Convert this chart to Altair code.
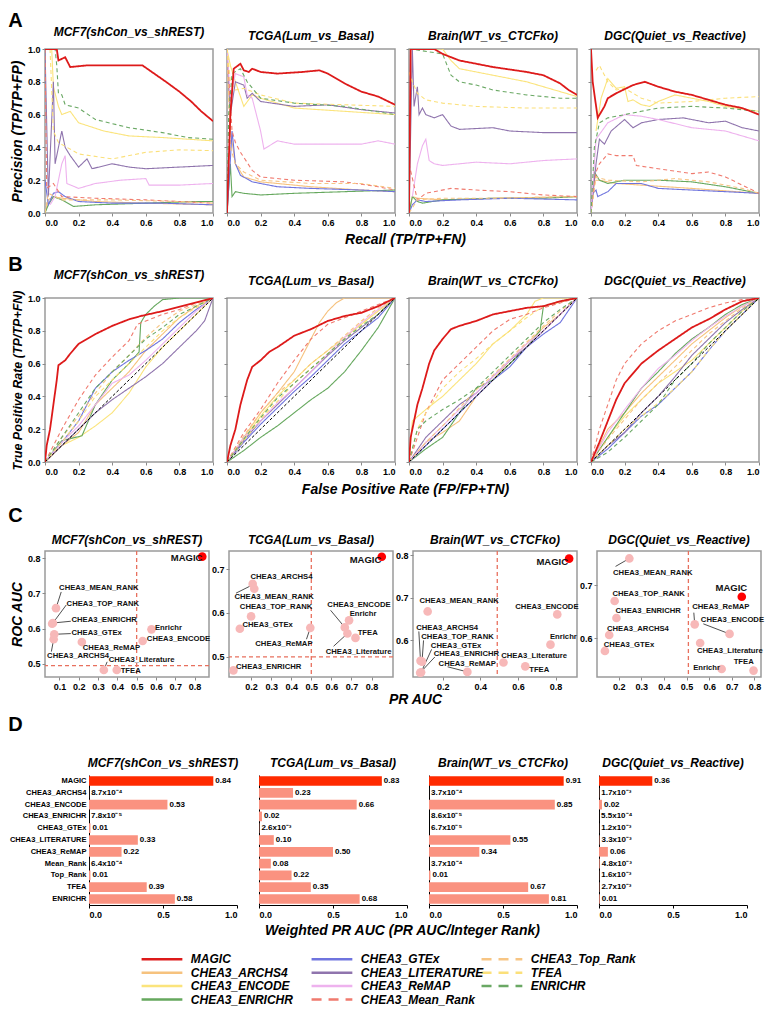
import altair as alt
import pandas as pd

FONT = "Liberation Sans"

# ---------------- methods / styles ----------------
METHODS = ["MAGIC", "CHEA3_ARCHS4", "CHEA3_ENCODE", "CHEA3_ENRICHR", "CHEA3_GTEx",
           "CHEA3_LITERATURE", "CHEA3_ReMAP", "CHEA3_Mean_Rank", "CHEA3_Top_Rank", "TFEA", "ENRICHR"]
METHOD_COLORS = ["#dd1a1a", "#f6c27e", "#fbe47c", "#66a85e", "#6f74de",
                 "#8f74ad", "#eeb2ee", "#f07a6e", "#f7c584", "#fbe07a", "#6aa864"]
DASHED = ["CHEA3_Mean_Rank", "CHEA3_Top_Rank", "TFEA", "ENRICHR"]
LEG_COL = [0, 0, 0, 0, 1, 1, 1, 1, 2, 2, 2]
LEG_ROW = [0, 1, 2, 3, 0, 1, 2, 3, 0, 1, 2]

TICKS01 = [0.0, 0.2, 0.4, 0.6, 0.8, 1.0]
DIAG_X = [0.0, 1.0]
DIAG_Y = [0.0, 1.0]
FPR_GRID = [0.0, 0.1, 0.2, 0.3, 0.4, 0.5, 0.6, 0.7, 0.8, 0.9, 1.0]

# ---------------- A: precision-recall curves ----------------
PR_MCF7 = {
    "CHEA3_ARCHS4": ([0.0, 0.02, 0.05, 0.1, 0.3, 0.6, 1.0], [0.0, 0.08, 0.1, 0.09, 0.07, 0.06, 0.05]),
    "CHEA3_ENCODE": ([0.04, 0.05, 0.08, 0.1, 0.15, 0.2, 0.35, 0.5, 0.7, 1.0], [1.0, 0.77, 0.65, 0.6, 0.62, 0.55, 0.5, 0.47, 0.46, 0.44]),
    "CHEA3_ENRICHR": ([0.0, 0.02, 0.05, 0.1, 0.17, 0.3, 0.6, 0.9, 1.0], [0.0, 0.05, 0.1, 0.08, 0.04, 0.05, 0.06, 0.07, 0.07]),
    "CHEA3_GTEx": ([0.0, 0.02, 0.05, 0.08, 0.12, 0.2, 0.4, 0.7, 1.0], [0.2, 0.05, 0.12, 0.13, 0.1, 0.07, 0.06, 0.06, 0.05]),
    "CHEA3_LITERATURE": ([0.0, 0.02, 0.05, 0.06, 0.1, 0.12, 0.15, 0.2, 0.25, 0.28, 0.4, 0.5, 0.6, 0.8, 1.0], [1.0, 0.1, 0.8, 0.3, 0.5, 0.4, 0.35, 0.28, 0.33, 0.27, 0.3, 0.28, 0.27, 0.28, 0.29]),
    "CHEA3_ReMAP": ([0.03, 0.06, 0.1, 0.12, 0.13, 0.2, 0.3, 0.45, 0.6, 0.62, 0.8, 1.0], [0.05, 0.1, 0.3, 0.35, 0.18, 0.15, 0.18, 0.2, 0.21, 0.17, 0.17, 0.18]),
    "CHEA3_Mean_Rank": ([0.0, 0.01, 0.05, 0.1, 0.3, 0.6, 1.0], [1.0, 0.15, 0.18, 0.1, 0.09, 0.08, 0.06]),
    "CHEA3_Top_Rank": ([0.0, 0.02, 0.1, 0.4, 0.8, 1.0], [0.0, 0.12, 0.08, 0.08, 0.07, 0.06]),
    "TFEA": ([0.03, 0.05, 0.08, 0.2, 0.4, 0.6, 0.8, 1.0], [1.0, 0.5, 0.43, 0.36, 0.33, 0.37, 0.385, 0.38]),
    "ENRICHR": ([0.05, 0.06, 0.07, 0.08, 0.1, 0.12, 0.2, 0.3, 0.5, 0.7, 0.85, 1.0], [1.0, 1.0, 0.9, 0.73, 0.72, 0.66, 0.64, 0.57, 0.52, 0.49, 0.46, 0.45]),
    "MAGIC": ([0.0, 0.07, 0.08, 0.12, 0.15, 0.25, 0.45, 0.58, 0.65, 0.72, 0.8, 0.87, 0.93, 1.0], [1.0, 1.0, 0.93, 0.95, 0.89, 0.9, 0.9, 0.9, 0.85, 0.8, 0.74, 0.68, 0.62, 0.56]),
}
PR_TCGA = {
    "CHEA3_ARCHS4": ([0.0, 0.02, 0.05, 0.1, 0.2, 0.5, 0.8, 1.0], [1.0, 0.5, 0.3, 0.22, 0.19, 0.16, 0.14, 0.13]),
    "CHEA3_ENCODE": ([0.0, 0.02, 0.05, 0.1, 0.15, 0.2, 0.4, 0.7, 1.0], [1.0, 0.9, 0.8, 0.65, 0.72, 0.7, 0.64, 0.62, 0.6]),
    "CHEA3_ENRICHR": ([0.0, 0.02, 0.03, 0.05, 0.1, 0.2, 0.4, 0.7, 1.0], [0.0, 0.3, 0.1, 0.13, 0.12, 0.11, 0.12, 0.13, 0.14]),
    "CHEA3_GTEx": ([0.0, 0.01, 0.03, 0.05, 0.08, 0.15, 0.3, 0.5, 0.8, 1.0], [0.0, 0.15, 0.5, 0.3, 0.23, 0.19, 0.16, 0.15, 0.14, 0.13]),
    "CHEA3_LITERATURE": ([0.0, 0.02, 0.05, 0.1, 0.12, 0.15, 0.2, 0.4, 0.6, 0.8, 1.0], [1.0, 0.6, 0.8, 0.78, 0.7, 0.73, 0.68, 0.65, 0.66, 0.63, 0.61]),
    "CHEA3_ReMAP": ([0.0, 0.02, 0.05, 0.1, 0.12, 0.15, 0.2, 0.22, 0.3, 0.4, 0.6, 0.8, 0.9, 1.0], [1.0, 0.7, 0.85, 0.83, 0.72, 0.7, 0.5, 0.39, 0.44, 0.42, 0.42, 0.42, 0.44, 0.42]),
    "CHEA3_Mean_Rank": ([0.0, 0.03, 0.05, 0.08, 0.1, 0.15, 0.2, 0.4, 0.7, 0.9, 1.0], [1.0, 0.5, 0.43, 0.37, 0.34, 0.26, 0.22, 0.2, 0.19, 0.16, 0.14]),
    "CHEA3_Top_Rank": ([0.0, 0.02, 0.05, 0.1, 0.2, 0.5, 0.8, 1.0], [1.0, 0.4, 0.3, 0.25, 0.2, 0.18, 0.18, 0.15]),
    "TFEA": ([0.0, 0.02, 0.05, 0.1, 0.2, 0.4, 0.7, 1.0], [1.0, 0.8, 0.75, 0.76, 0.72, 0.67, 0.66, 0.65]),
    "ENRICHR": ([0.0, 0.01, 0.03, 0.08, 0.12, 0.2, 0.4, 0.7, 1.0], [0.0, 0.6, 0.85, 0.88, 0.8, 0.7, 0.67, 0.65, 0.6]),
    "MAGIC": ([0.0, 0.02, 0.04, 0.08, 0.1, 0.13, 0.15, 0.2, 0.3, 0.45, 0.55, 0.6, 0.7, 0.8, 0.9, 1.0], [0.0, 0.6, 0.88, 0.91, 0.87, 0.86, 0.88, 0.86, 0.85, 0.86, 0.87, 0.85, 0.79, 0.74, 0.71, 0.66]),
}
PR_BRAIN = {
    "CHEA3_ARCHS4": ([0.0, 0.02, 0.05, 0.2, 0.5, 1.0], [0.0, 0.1, 0.09, 0.08, 0.09, 0.1]),
    "CHEA3_ENCODE": ([0.0, 0.01, 0.2, 0.25, 0.3, 0.5, 0.7, 0.9, 1.0], [1.0, 1.0, 1.0, 0.93, 0.88, 0.84, 0.8, 0.74, 0.71]),
    "CHEA3_ENRICHR": ([0.0, 0.02, 0.05, 0.08, 0.2, 0.5, 0.8, 1.0], [0.0, 0.1, 0.07, 0.06, 0.08, 0.09, 0.09, 0.1]),
    "CHEA3_GTEx": ([0.0, 0.02, 0.05, 0.1, 0.3, 0.6, 1.0], [0.0, 0.05, 0.08, 0.07, 0.08, 0.09, 0.08]),
    "CHEA3_LITERATURE": ([0.0, 0.02, 0.03, 0.05, 0.06, 0.08, 0.1, 0.15, 0.2, 0.25, 0.3, 0.5, 0.6, 0.8, 1.0], [0.0, 1.0, 0.65, 0.77, 0.6, 0.64, 0.6, 0.58, 0.6, 0.53, 0.51, 0.52, 0.5, 0.49, 0.49]),
    "CHEA3_ReMAP": ([0.02, 0.05, 0.08, 0.1, 0.12, 0.15, 0.2, 0.4, 0.6, 0.8, 1.0], [0.1, 0.3, 0.41, 0.45, 0.32, 0.3, 0.29, 0.31, 0.3, 0.32, 0.33]),
    "CHEA3_Mean_Rank": ([0.0, 0.05, 0.1, 0.25, 0.4, 0.6, 0.8, 1.0], [0.3, 0.08, 0.12, 0.15, 0.14, 0.13, 0.11, 0.1]),
    "CHEA3_Top_Rank": ([0.0, 0.05, 0.2, 0.5, 1.0], [0.0, 0.08, 0.09, 0.09, 0.1]),
    "TFEA": ([0.0, 0.02, 0.05, 0.1, 0.2, 0.4, 0.7, 1.0], [0.86, 0.8, 0.73, 0.69, 0.67, 0.65, 0.64, 0.64]),
    "ENRICHR": ([0.0, 0.01, 0.2, 0.25, 0.3, 0.4, 0.5, 0.7, 0.9, 1.0], [1.0, 1.0, 0.97, 0.84, 0.8, 0.78, 0.75, 0.72, 0.7, 0.7]),
    "MAGIC": ([0.0, 0.01, 0.15, 0.2, 0.3, 0.5, 0.7, 0.8, 0.9, 0.95, 1.0], [0.0, 1.0, 1.0, 0.97, 0.93, 0.89, 0.86, 0.84, 0.79, 0.75, 0.72]),
}
PR_DGC = {
    "CHEA3_ARCHS4": ([0.0, 0.02, 0.05, 0.15, 0.3, 0.6, 1.0], [0.0, 0.2, 0.2, 0.18, 0.17, 0.15, 0.12]),
    "CHEA3_ENCODE": ([0.03, 0.06, 0.1, 0.15, 0.2, 0.22, 0.25, 0.3, 0.35, 0.4, 0.5, 0.6, 0.7, 0.8, 1.0], [0.5, 0.7, 0.82, 0.76, 0.77, 0.68, 0.69, 0.66, 0.65, 0.68, 0.72, 0.7, 0.68, 0.65, 0.62]),
    "CHEA3_ENRICHR": ([0.0, 0.02, 0.05, 0.1, 0.2, 0.4, 0.6, 0.8, 1.0], [0.0, 0.25, 0.2, 0.18, 0.2, 0.2, 0.19, 0.16, 0.12]),
    "CHEA3_GTEx": ([0.0, 0.01, 0.03, 0.04, 0.1, 0.15, 0.3, 0.4, 0.6, 1.0], [0.0, 0.12, 0.14, 0.1, 0.13, 0.18, 0.18, 0.15, 0.14, 0.12]),
    "CHEA3_LITERATURE": ([0.0, 0.03, 0.05, 0.08, 0.12, 0.2, 0.25, 0.3, 0.4, 0.55, 0.7, 0.8, 0.9, 1.0], [0.0, 0.3, 0.45, 0.42, 0.5, 0.57, 0.52, 0.55, 0.57, 0.58, 0.55, 0.56, 0.52, 0.5]),
    "CHEA3_ReMAP": ([0.0, 0.03, 0.1, 0.2, 0.3, 0.4, 0.6, 0.8, 1.0], [0.0, 0.45, 0.55, 0.6, 0.59, 0.57, 0.52, 0.5, 0.44]),
    "CHEA3_Mean_Rank": ([0.0, 0.03, 0.05, 0.1, 0.15, 0.25, 0.27, 0.4, 0.6, 0.7, 0.8, 1.0], [0.0, 0.25, 0.3, 0.36, 0.35, 0.35, 0.29, 0.27, 0.24, 0.25, 0.22, 0.12]),
    "CHEA3_Top_Rank": ([0.0, 0.03, 0.1, 0.3, 0.5, 0.7, 0.9, 1.0], [0.0, 0.22, 0.2, 0.19, 0.21, 0.19, 0.15, 0.12]),
    "TFEA": ([0.03, 0.05, 0.1, 0.15, 0.2, 0.3, 0.4, 0.6, 0.7, 0.8, 1.0], [0.87, 0.9, 0.8, 0.75, 0.76, 0.7, 0.67, 0.68, 0.69, 0.7, 0.71]),
    "ENRICHR": ([0.0, 0.02, 0.05, 0.1, 0.2, 0.3, 0.4, 0.6, 0.8, 1.0], [0.0, 0.4, 0.55, 0.58, 0.6, 0.62, 0.64, 0.65, 0.64, 0.62]),
    "MAGIC": ([0.0, 0.01, 0.04, 0.08, 0.1, 0.15, 0.25, 0.32, 0.4, 0.5, 0.6, 0.7, 0.8, 0.9, 1.0], [1.0, 0.8, 0.58, 0.65, 0.7, 0.73, 0.78, 0.8, 0.77, 0.74, 0.72, 0.69, 0.66, 0.64, 0.6]),
}

# ---------------- B: ROC curves ----------------
ROC_MCF7 = {
    "CHEA3_ARCHS4": (FPR_GRID, [0.0, 0.1, 0.18, 0.35, 0.45, 0.55, 0.68, 0.78, 0.88, 0.95, 1.0]),
    "CHEA3_ENCODE": (FPR_GRID, [0.0, 0.1, 0.15, 0.22, 0.3, 0.42, 0.58, 0.7, 0.8, 0.9, 1.0]),
    "CHEA3_ENRICHR": ([0.0, 0.1, 0.22, 0.3, 0.4, 0.5, 0.56, 0.57, 0.6, 0.65, 0.7, 0.8, 1.0], [0.0, 0.13, 0.16, 0.35, 0.5, 0.6, 0.67, 0.85, 0.9, 0.95, 0.99, 1.0, 1.0]),
    "CHEA3_GTEx": (FPR_GRID, [0.0, 0.12, 0.25, 0.45, 0.55, 0.62, 0.68, 0.75, 0.85, 0.93, 1.0]),
    "CHEA3_LITERATURE": ([0.0, 0.1, 0.2, 0.3, 0.4, 0.5, 0.6, 0.7, 0.8, 0.9, 0.95, 1.0], [0.0, 0.1, 0.2, 0.3, 0.38, 0.45, 0.52, 0.6, 0.7, 0.8, 0.86, 1.0]),
    "CHEA3_ReMAP": (FPR_GRID, [0.0, 0.12, 0.22, 0.35, 0.48, 0.53, 0.62, 0.72, 0.82, 0.92, 1.0]),
    "CHEA3_Mean_Rank": ([0.0, 0.1, 0.2, 0.3, 0.4, 0.5, 0.55, 0.6, 0.7, 0.8, 0.9, 1.0], [0.0, 0.2, 0.38, 0.53, 0.64, 0.74, 0.84, 0.86, 0.9, 0.93, 0.97, 1.0]),
    "CHEA3_Top_Rank": ([0.0, 0.1, 0.2, 0.3, 0.4, 0.5, 0.6, 0.7, 0.8, 1.0], [0.0, 0.15, 0.28, 0.42, 0.55, 0.65, 0.76, 0.85, 0.92, 1.0]),
    "TFEA": ([0.0, 0.1, 0.2, 0.3, 0.4, 0.5, 0.6, 0.7, 0.8, 1.0], [0.0, 0.12, 0.25, 0.4, 0.5, 0.6, 0.7, 0.8, 0.88, 1.0]),
    "ENRICHR": ([0.0, 0.1, 0.2, 0.3, 0.4, 0.5, 0.6, 0.7, 0.8, 1.0], [0.0, 0.15, 0.3, 0.45, 0.55, 0.65, 0.75, 0.82, 0.9, 1.0]),
    "MAGIC": ([0.0, 0.01, 0.03, 0.05, 0.07, 0.08, 0.12, 0.15, 0.2, 0.3, 0.4, 0.5, 0.57, 0.7, 0.85, 1.0], [0.0, 0.1, 0.2, 0.35, 0.5, 0.59, 0.62, 0.66, 0.72, 0.78, 0.83, 0.87, 0.89, 0.92, 0.96, 1.0]),
}
ROC_TCGA = {
    "CHEA3_ARCHS4": ([0.0, 0.1, 0.2, 0.3, 0.4, 0.45, 0.5, 0.55, 0.6, 0.65, 0.7, 1.0], [0.0, 0.15, 0.3, 0.42, 0.55, 0.65, 0.75, 0.85, 0.92, 0.97, 1.0, 1.0]),
    "CHEA3_ENCODE": (FPR_GRID, [0.0, 0.14, 0.28, 0.4, 0.5, 0.6, 0.68, 0.76, 0.84, 0.92, 1.0]),
    "CHEA3_ENRICHR": (FPR_GRID, [0.0, 0.07, 0.15, 0.22, 0.3, 0.38, 0.45, 0.55, 0.68, 0.82, 1.0]),
    "CHEA3_GTEx": (FPR_GRID, [0.0, 0.12, 0.23, 0.33, 0.43, 0.52, 0.62, 0.72, 0.8, 0.88, 1.0]),
    "CHEA3_LITERATURE": (FPR_GRID, [0.0, 0.13, 0.25, 0.35, 0.45, 0.55, 0.65, 0.74, 0.82, 0.9, 1.0]),
    "CHEA3_ReMAP": (FPR_GRID, [0.0, 0.15, 0.25, 0.36, 0.45, 0.55, 0.66, 0.76, 0.85, 0.93, 1.0]),
    "CHEA3_Mean_Rank": (FPR_GRID, [0.0, 0.18, 0.32, 0.48, 0.62, 0.75, 0.84, 0.88, 0.92, 0.96, 1.0]),
    "CHEA3_Top_Rank": (FPR_GRID, [0.0, 0.16, 0.3, 0.42, 0.5, 0.6, 0.68, 0.77, 0.86, 0.94, 1.0]),
    "TFEA": (FPR_GRID, [0.0, 0.13, 0.26, 0.37, 0.48, 0.57, 0.66, 0.75, 0.84, 0.92, 1.0]),
    "ENRICHR": (FPR_GRID, [0.0, 0.14, 0.27, 0.39, 0.48, 0.57, 0.66, 0.75, 0.83, 0.9, 1.0]),
    "MAGIC": ([0.0, 0.02, 0.05, 0.08, 0.12, 0.15, 0.2, 0.25, 0.3, 0.4, 0.5, 0.6, 0.7, 0.8, 0.9, 1.0], [0.0, 0.1, 0.2, 0.35, 0.5, 0.58, 0.62, 0.67, 0.7, 0.77, 0.81, 0.86, 0.89, 0.91, 0.95, 1.0]),
}
ROC_BRAIN = {
    "CHEA3_ARCHS4": (FPR_GRID, [0.0, 0.12, 0.18, 0.25, 0.4, 0.5, 0.62, 0.72, 0.82, 0.9, 1.0]),
    "CHEA3_ENCODE": ([0.0, 0.02, 0.1, 0.2, 0.3, 0.4, 0.5, 0.6, 0.7, 0.75, 0.8, 1.0], [0.0, 0.25, 0.32, 0.4, 0.5, 0.6, 0.72, 0.8, 0.9, 0.98, 1.0, 1.0]),
    "CHEA3_ENRICHR": ([0.0, 0.1, 0.2, 0.3, 0.4, 0.5, 0.6, 0.7, 0.78, 0.8, 0.9, 1.0], [0.0, 0.08, 0.15, 0.3, 0.45, 0.5, 0.6, 0.7, 0.8, 0.95, 0.98, 1.0]),
    "CHEA3_GTEx": (FPR_GRID, [0.0, 0.1, 0.2, 0.3, 0.4, 0.5, 0.58, 0.7, 0.78, 0.85, 1.0]),
    "CHEA3_LITERATURE": (FPR_GRID, [0.0, 0.15, 0.25, 0.35, 0.42, 0.52, 0.62, 0.7, 0.8, 0.9, 1.0]),
    "CHEA3_ReMAP": (FPR_GRID, [0.0, 0.12, 0.22, 0.32, 0.42, 0.52, 0.62, 0.72, 0.8, 0.9, 1.0]),
    "CHEA3_Mean_Rank": ([0.0, 0.05, 0.1, 0.2, 0.3, 0.4, 0.5, 0.6, 0.7, 0.8, 0.9, 1.0], [0.0, 0.15, 0.3, 0.5, 0.6, 0.7, 0.8, 0.87, 0.9, 0.94, 0.97, 1.0]),
    "CHEA3_Top_Rank": (FPR_GRID, [0.0, 0.12, 0.22, 0.33, 0.44, 0.53, 0.63, 0.73, 0.83, 0.92, 1.0]),
    "TFEA": ([0.0, 0.05, 0.1, 0.2, 0.3, 0.4, 0.5, 0.6, 0.7, 0.8, 1.0], [0.0, 0.2, 0.3, 0.45, 0.55, 0.63, 0.72, 0.8, 0.88, 0.95, 1.0]),
    "ENRICHR": ([0.0, 0.05, 0.1, 0.2, 0.3, 0.4, 0.5, 0.6, 0.7, 0.8, 0.9, 1.0], [0.0, 0.2, 0.25, 0.32, 0.38, 0.45, 0.55, 0.65, 0.75, 0.85, 0.93, 1.0]),
    "MAGIC": ([0.0, 0.01, 0.03, 0.05, 0.08, 0.12, 0.15, 0.2, 0.25, 0.3, 0.4, 0.5, 0.6, 0.7, 0.8, 0.9, 1.0], [0.0, 0.15, 0.25, 0.35, 0.45, 0.6, 0.68, 0.75, 0.81, 0.83, 0.86, 0.9, 0.92, 0.94, 0.95, 0.98, 1.0]),
}
ROC_DGC = {
    "CHEA3_ARCHS4": (FPR_GRID, [0.0, 0.2, 0.3, 0.42, 0.52, 0.62, 0.72, 0.8, 0.88, 0.95, 1.0]),
    "CHEA3_ENCODE": (FPR_GRID, [0.0, 0.15, 0.28, 0.38, 0.48, 0.55, 0.62, 0.72, 0.82, 0.92, 1.0]),
    "CHEA3_ENRICHR": (FPR_GRID, [0.0, 0.15, 0.3, 0.45, 0.55, 0.66, 0.75, 0.82, 0.9, 0.96, 1.0]),
    "CHEA3_GTEx": (FPR_GRID, [0.0, 0.08, 0.18, 0.28, 0.35, 0.45, 0.55, 0.68, 0.8, 0.9, 1.0]),
    "CHEA3_LITERATURE": (FPR_GRID, [0.0, 0.1, 0.18, 0.3, 0.4, 0.52, 0.65, 0.75, 0.85, 0.93, 1.0]),
    "CHEA3_ReMAP": (FPR_GRID, [0.0, 0.18, 0.32, 0.45, 0.57, 0.65, 0.74, 0.82, 0.89, 0.95, 1.0]),
    "CHEA3_Mean_Rank": ([0.0, 0.05, 0.1, 0.15, 0.2, 0.3, 0.4, 0.5, 0.6, 0.7, 0.8, 0.9, 1.0], [0.0, 0.2, 0.35, 0.5, 0.6, 0.72, 0.8, 0.86, 0.9, 0.94, 0.97, 0.99, 1.0]),
    "CHEA3_Top_Rank": (FPR_GRID, [0.0, 0.14, 0.26, 0.38, 0.48, 0.58, 0.68, 0.78, 0.86, 0.94, 1.0]),
    "TFEA": (FPR_GRID, [0.0, 0.1, 0.2, 0.28, 0.36, 0.45, 0.55, 0.68, 0.8, 0.9, 1.0]),
    "ENRICHR": (FPR_GRID, [0.0, 0.06, 0.15, 0.25, 0.35, 0.5, 0.6, 0.72, 0.82, 0.92, 1.0]),
    "MAGIC": ([0.0, 0.05, 0.1, 0.15, 0.2, 0.3, 0.4, 0.5, 0.6, 0.7, 0.8, 0.9, 1.0], [0.0, 0.12, 0.25, 0.38, 0.48, 0.6, 0.68, 0.75, 0.82, 0.87, 0.93, 0.98, 1.0]),
}

# ---------------- C: PR AUC vs ROC AUC ----------------
C_MCF7_NAMES = ["MAGIC", "CHEA3_MEAN_RANK", "CHEA3_TOP_RANK", "CHEA3_ENRICHR", "CHEA3_GTEx", "CHEA3_ARCHS4",
                "CHEA3_ReMAP", "CHEA3_ENCODE", "Enrichr", "CHEA3_Literature", "TFEA"]
C_MCF7_PR = [0.84, 0.082, 0.066, 0.062, 0.073, 0.07, 0.216, 0.531, 0.577, 0.33, 0.397]
C_MCF7_ROC = [0.804, 0.658, 0.616, 0.614, 0.584, 0.57, 0.562, 0.565, 0.598, 0.483, 0.483]
C_MCF7_LX = [0.677, 0.098, 0.137, 0.162, 0.162, 0.036, 0.221, 0.553, 0.595, 0.355, 0.417]
C_MCF7_LY = [0.80, 0.714, 0.669, 0.624, 0.587, 0.522, 0.546, 0.570, 0.602, 0.512, 0.481]
C_MCF7_LEAD = [(0.109, 0.704, 0.082, 0.658), (0.135, 0.667, 0.066, 0.616), (0.159, 0.621, 0.066, 0.616),
               (0.159, 0.586, 0.073, 0.584), (0.058, 0.535, 0.07, 0.57), (0.347, 0.506, 0.33, 0.483)]

C_TCGA_NAMES = ["MAGIC", "CHEA3_ARCHS4", "CHEA3_MEAN_RANK", "CHEA3_TOP_RANK", "CHEA3_GTEx", "CHEA3_ReMAP",
                "CHEA3_ENCODE", "Enrichr", "CHEA3_Literature", "TFEA", "CHEA3_ENRICHR"]
C_TCGA_PR = [0.851, 0.208, 0.216, 0.2, 0.144, 0.495, 0.667, 0.688, 0.68, 0.72, 0.112]
C_TCGA_ROC = [0.728, 0.666, 0.655, 0.592, 0.564, 0.566, 0.567, 0.583, 0.553, 0.543, 0.469]
C_TCGA_LX = [0.691, 0.197, 0.117, 0.144, 0.157, 0.221, 0.58, 0.691, 0.572, 0.731, 0.125]
C_TCGA_LY = [0.721, 0.681, 0.637, 0.613, 0.572, 0.53, 0.619, 0.597, 0.512, 0.554, 0.476]
C_TCGA_LEAD = [(0.125, 0.645, 0.208, 0.664), (0.476, 0.54, 0.495, 0.566), (0.596, 0.606, 0.667, 0.567),
               (0.611, 0.524, 0.68, 0.553)]

C_BRAIN_NAMES = ["MAGIC", "CHEA3_MEAN_RANK", "CHEA3_ENCODE", "CHEA3_ARCHS4", "CHEA3_TOP_RANK", "CHEA3_GTEx",
                 "CHEA3_ENRICHR", "CHEA3_ReMAP", "CHEA3_Literature", "Enrichr", "TFEA"]
C_BRAIN_PR = [0.872, 0.12, 0.809, 0.082, 0.09, 0.085, 0.08, 0.331, 0.523, 0.773, 0.639]
C_BRAIN_ROC = [0.792, 0.668, 0.661, 0.552, 0.55, 0.525, 0.524, 0.526, 0.548, 0.59, 0.539]
C_BRAIN_LX = [0.698, 0.076, 0.586, 0.059, 0.086, 0.137, 0.152, 0.178, 0.511, 0.77, 0.66]
C_BRAIN_LY = [0.785, 0.693, 0.678, 0.629, 0.608, 0.586, 0.567, 0.545, 0.563, 0.608, 0.53]
C_BRAIN_LEAD = [(0.073, 0.621, 0.082, 0.552), (0.098, 0.6, 0.09, 0.55), (0.141, 0.579, 0.085, 0.525),
                (0.158, 0.561, 0.08, 0.524), (0.226, 0.538, 0.331, 0.526)]

C_DGC_NAMES = ["MAGIC", "CHEA3_MEAN_RANK", "CHEA3_TOP_RANK", "CHEA3_ENRICHR", "CHEA3_ReMAP", "CHEA3_ARCHS4",
               "CHEA3_ENCODE", "CHEA3_Literature", "CHEA3_GTEx", "Enrichr", "TFEA"]
C_DGC_PR = [0.744, 0.247, 0.182, 0.19, 0.536, 0.158, 0.69, 0.56, 0.139, 0.655, 0.796]
C_DGC_ROC = [0.678, 0.75, 0.67, 0.638, 0.626, 0.606, 0.608, 0.591, 0.576, 0.542, 0.539]
C_DGC_LX = [0.628, 0.175, 0.172, 0.186, 0.525, 0.148, 0.563, 0.546, 0.134, 0.529, 0.708]
C_DGC_LY = [0.694, 0.722, 0.683, 0.652, 0.658, 0.618, 0.635, 0.576, 0.588, 0.543, 0.555]
C_DGC_LEAD = [(0.186, 0.735, 0.247, 0.75), (0.532, 0.648, 0.536, 0.626), (0.574, 0.627, 0.69, 0.608)]

# ---------------- D: weighted PR AUC ----------------
D_CATS = ["MAGIC", "CHEA3_ARCHS4", "CHEA3_ENCODE", "CHEA3_ENRICHR", "CHEA3_GTEx", "CHEA3_LITERATURE",
          "CHEA3_ReMAP", "Mean_Rank", "Top_Rank", "TFEA", "ENRICHR"]
D_MCF7 = [0.84, 8.7e-4, 0.53, 7.8e-5, 0.01, 0.33, 0.22, 6.4e-4, 0.01, 0.39, 0.58]
D_TCGA = [0.83, 0.23, 0.66, 0.02, 2.6e-3, 0.10, 0.50, 0.08, 0.22, 0.35, 0.68]
D_BRAIN = [0.91, 3.7e-4, 0.85, 8.6e-5, 6.7e-5, 0.55, 0.34, 3.7e-4, 0.01, 0.67, 0.81]
D_DGC = [0.36, 1.7e-3, 0.02, 5.5e-4, 1.2e-3, 3.3e-3, 0.06, 4.8e-3, 1.6e-3, 2.7e-3, 5.0e-3]

TITLES = ["MCF7(shCon_vs_shREST)", "TCGA(Lum_vs_Basal)", "Brain(WT_vs_CTCFko)", "DGC(Quiet_vs_Reactive)"]

# ---------------- helpers ----------------
SUP = str.maketrans("0123456789-", "⁰¹²³⁴⁵⁶⁷⁸⁹⁻")


def fmt_val(v):
    if v >= 0.005:
        return f"{v:.2f}"
    mant, exp = f"{v:.1e}".split("e")
    return f"{mant}x10" + str(int(exp)).translate(SUP)


def curves_df(d):
    rows = []
    for m, (xs, ys) in d.items():
        for i, (x, y) in enumerate(zip(xs, ys)):
            rows.append({"method": m, "x": x, "y": y, "i": i})
    return pd.DataFrame(rows)


def panel_title(t, off):
    return alt.TitleParams(t, font=FONT, fontSize=12, fontStyle="italic", fontWeight="bold",
                           color="black", offset=off)


COLOR_SCALE = alt.Scale(domain=METHODS, range=METHOD_COLORS)
DASH_SCALE = alt.Scale(domain=METHODS, range=[[4, 3] if m in DASHED else [1, 0] for m in METHODS])


def bottom_axis(values, fmt, title=None, title_x=None, title_pad=4, **kw):
    if title is None:
        return alt.Axis(values=values, format=fmt, title=None, **kw)
    return alt.Axis(values=values, format=fmt, title=title, titleX=title_x, titleAnchor="middle",
                    titleAlign="center", titlePadding=title_pad, **kw)


def spacer(w):
    df = pd.DataFrame({"s": [0]})
    return alt.Chart(df).mark_point(opacity=0).encode(
        x=alt.X("s:Q", axis=None), y=alt.Y("s:Q", axis=None)
    ).properties(width=w, height=10, view=alt.ViewConfig(stroke="transparent"))


def curve_panel(d, title, first, ytitle, xtitle, title_x, title_pad, ytitle_size, title_off, roc=False):
    df = curves_df(d)
    xs = alt.Scale(domain=[0, 1], nice=False, zero=False)
    ys = alt.Scale(domain=[0, 1], nice=False, zero=False)
    if first:
        xax = bottom_axis(TICKS01, ".1f", xtitle, title_x, title_pad, domain=False)
        yax = alt.Axis(values=TICKS01, format=".1f", title=ytitle, domain=False, titlePadding=3,
                       titleFontSize=ytitle_size)
    else:
        xax = bottom_axis(TICKS01, ".1f", domain=False)
        yax = alt.Axis(values=TICKS01, labels=False, title=None, domain=False)
    enc = dict(
        x=alt.X("x:Q", scale=xs, axis=xax),
        y=alt.Y("y:Q", scale=ys, axis=yax),
        color=alt.Color("method:N", scale=COLOR_SCALE, legend=None),
        strokeDash=alt.StrokeDash("method:N", scale=DASH_SCALE, legend=None),
        order=alt.Order("i:Q"),
    )
    base = alt.Chart(df)
    layers = [base.transform_filter(alt.datum.method != "MAGIC")
              .mark_line(strokeWidth=1.1, clip=True).encode(**enc)]
    if roc:
        diag = pd.DataFrame({"x": DIAG_X, "y": DIAG_Y})
        layers.append(alt.Chart(diag).mark_line(color="black", strokeDash=[3, 2], strokeWidth=1)
                      .encode(x=alt.X("x:Q", scale=xs, axis=xax), y=alt.Y("y:Q", scale=ys, axis=yax)))
    layers.append(base.transform_filter(alt.datum.method == "MAGIC")
                  .mark_line(strokeWidth=1.8, clip=True).encode(**enc))
    return alt.layer(*layers).properties(width=168, height=164, title=panel_title(title, title_off))


def scatter_panel(names, pr, roc, lx, ly, leads, xdom, ydom, xt, yt, vline, hline, title, first):
    pts = pd.DataFrame({"name": names, "pr": pr, "roc": roc, "lx": lx, "ly": ly})
    lines = pd.DataFrame(leads, columns=["x1", "y1", "x2", "y2"])
    xs = alt.Scale(domain=xdom, nice=False, zero=False)
    ys = alt.Scale(domain=ydom, nice=False, zero=False)
    if first:
        xax = bottom_axis(xt, ".1f", "PR AUC", 370, 1, domain=False)
        yax = alt.Axis(values=yt, format=".1f", title="ROC AUC", domain=False, titlePadding=3)
    else:
        xax = bottom_axis(xt, ".1f", domain=False)
        yax = alt.Axis(values=yt, format=".1f", title=None, domain=False)
    X = lambda f: alt.X(f, scale=xs, axis=xax)
    Y = lambda f: alt.Y(f, scale=ys, axis=yax)
    layers = []
    ref_v = pd.DataFrame({"v": [vline]})
    layers.append(alt.Chart(ref_v).mark_rule(color="#e8705e", strokeDash=[4, 3], strokeWidth=1.3)
                  .encode(x=X("v:Q")))
    if hline is not None:
        ref_h = pd.DataFrame({"h": [hline]})
        layers.append(alt.Chart(ref_h).mark_rule(color="#e8705e", strokeDash=[4, 3], strokeWidth=1.3)
                      .encode(y=Y("h:Q")))
    layers.append(alt.Chart(lines).mark_rule(color="#222222", strokeWidth=0.8)
                  .encode(x=X("x1:Q"), y=Y("y1:Q"), x2="x2:Q", y2="y2:Q"))
    layers.append(alt.Chart(pts).mark_circle(size=75, opacity=1)
                  .encode(x=X("pr:Q"), y=Y("roc:Q"),
                          color=alt.condition(alt.datum.name == "MAGIC", alt.value("#ff0000"),
                                              alt.value("#f7b8b8"))))
    layers.append(alt.Chart(pts).transform_filter(alt.datum.name != "MAGIC")
                  .mark_text(align="left", baseline="middle", font=FONT, fontSize=7.7,
                             fontWeight="bold", color="#111111")
                  .encode(x=X("lx:Q"), y=Y("ly:Q"), text="name:N"))
    layers.append(alt.Chart(pts).transform_filter(alt.datum.name == "MAGIC")
                  .mark_text(align="left", baseline="middle", font=FONT, fontSize=9.5,
                             fontWeight="bold", color="#111111")
                  .encode(x=X("lx:Q"), y=Y("ly:Q"), text="name:N"))
    return alt.layer(*layers).properties(width=164, height=126, title=panel_title(title, 3))


def bar_panel(vals, title, first):
    df = pd.DataFrame({"cat": D_CATS, "v": vals, "lab": [fmt_val(v) for v in vals]})
    yax = alt.Axis(title=None, labels=first, ticks=False, domain=True, domainColor="black",
                   domainWidth=1, labelFontSize=7.5, labelPadding=3, labelLimit=200)
    y = alt.Y("cat:N", sort=D_CATS, scale=alt.Scale(paddingInner=0.18, paddingOuter=0.1), axis=yax)
    if first:
        xax = bottom_axis([0, 0.5, 1], ".1f", "Weighted PR AUC (PR AUC/Integer Rank)", 313, 4,
                          domain=True, domainColor="black", tickColor="black", domainWidth=1)
    else:
        xax = bottom_axis([0, 0.5, 1], ".1f", domain=True, domainColor="black", tickColor="black",
                          domainWidth=1)
    x = alt.X("v:Q", scale=alt.Scale(domain=[0, 1], nice=False), axis=xax)
    bars = alt.Chart(df).mark_bar().encode(
        x=x, y=y,
        color=alt.condition(alt.datum.cat == "MAGIC", alt.value("#ff2a00"), alt.value("#fa9280")))
    text = alt.Chart(df).mark_text(align="left", baseline="middle", dx=2, font=FONT, fontSize=8,
                                   fontWeight="bold", color="black").encode(x=x, y=y, text="lab:N")
    return alt.layer(bars, text).properties(width=148, height=130, title=panel_title(title, 5),
                                            view=alt.ViewConfig(stroke="transparent"))


def make_row(panels, letter, spacing, letter_offset, lead):
    return alt.hconcat(spacer(lead), *panels, spacing=spacing, bounds="flush",
                       title=alt.TitleParams(letter, anchor="start", font=FONT, fontSize=20,
                                             fontWeight="bold", color="black",
                                             offset=letter_offset))


PR_SETS = [PR_MCF7, PR_TCGA, PR_BRAIN, PR_DGC]
ROC_SETS = [ROC_MCF7, ROC_TCGA, ROC_BRAIN, ROC_DGC]

rowA = make_row([curve_panel(d, t, i == 0, "Precision (TP/TP+FP)", "Recall (TP/TP+FN)", 360, 5, 14, 6)
                 for i, (d, t) in enumerate(zip(PR_SETS, TITLES))], "A", 14, -6, 22)
rowB = make_row([curve_panel(d, t, i == 0, "True Positive Rate (TP/TP+FN)", "False Positive Rate (FP/FP+TN)",
                             360, 6, 12.5, 8, roc=True)
                 for i, (d, t) in enumerate(zip(ROC_SETS, TITLES))], "B", 14, -7, 22)

c_panels = [
    scatter_panel(C_MCF7_NAMES, C_MCF7_PR, C_MCF7_ROC, C_MCF7_LX, C_MCF7_LY, C_MCF7_LEAD,
                  [0.025, 0.875], [0.463, 0.82], [0.1, 0.2, 0.3, 0.4, 0.5, 0.6, 0.7, 0.8],
                  [0.5, 0.6, 0.7, 0.8], 0.5, 0.495, TITLES[0], True),
    scatter_panel(C_TCGA_NAMES, C_TCGA_PR, C_TCGA_ROC, C_TCGA_LX, C_TCGA_LY, C_TCGA_LEAD,
                  [0.09, 0.907], [0.454, 0.741], [0.2, 0.3, 0.4, 0.5, 0.6, 0.7, 0.8],
                  [0.5, 0.6, 0.7], 0.5, 0.5, TITLES[1], False),
    scatter_panel(C_BRAIN_NAMES, C_BRAIN_PR, C_BRAIN_ROC, C_BRAIN_LX, C_BRAIN_LY, C_BRAIN_LEAD,
                  [0.042, 0.914], [0.514, 0.81], [0.2, 0.4, 0.6, 0.8],
                  [0.6, 0.7, 0.8], 0.49, None, TITLES[2], False),
    scatter_panel(C_DGC_NAMES, C_DGC_PR, C_DGC_ROC, C_DGC_LX, C_DGC_LY, C_DGC_LEAD,
                  [0.104, 0.829], [0.527, 0.764], [0.2, 0.3, 0.4, 0.5, 0.6, 0.7, 0.8],
                  [0.6, 0.7], 0.508, None, TITLES[3], False),
]
rowC = make_row(c_panels, "C", 20, 8, 16)

rowD = make_row([bar_panel(v, t, i == 0) for i, (v, t) in enumerate(zip([D_MCF7, D_TCGA, D_BRAIN, D_DGC], TITLES))],
                "D", 22, 21, 58)

# ---------------- legend (drawn as its own small chart) ----------------
leg_df = pd.DataFrame({"method": METHODS, "col": LEG_COL, "row": LEG_ROW})
LX = alt.Scale(domain=[-0.78, 2.85], nice=False, zero=False)
LY = alt.Scale(domain=[-0.9, 3.4], nice=False, zero=False, reverse=True)
leg_base = alt.Chart(leg_df).transform_calculate(x_end="datum.col + 0.24", x_txt="datum.col + 0.29")
leg_lines = leg_base.mark_rule(strokeWidth=2.5).encode(
    x=alt.X("col:Q", scale=LX, axis=None), x2="x_end:Q",
    y=alt.Y("row:Q", scale=LY, axis=None),
    color=alt.Color("method:N", scale=COLOR_SCALE, legend=None),
    strokeDash=alt.condition(alt.FieldOneOfPredicate(field="method", oneOf=DASHED),
                             alt.value([10, 7]), alt.value([1, 0])),
)
leg_text = leg_base.mark_text(align="left", baseline="middle", font=FONT, fontSize=12,
                              fontStyle="italic", fontWeight="bold", color="black").encode(
    x=alt.X("x_txt:Q", scale=LX, axis=None), y=alt.Y("row:Q", scale=LY, axis=None), text="method:N")
legend_chart = alt.layer(leg_lines, leg_text).properties(width=617, height=58,
                                                         view=alt.ViewConfig(stroke="transparent"))

chart = alt.concat(rowA, rowB, rowC, rowD, legend_chart, columns=1, spacing=8,
                   bounds="full").properties(
    padding={"left": 0, "right": 2, "top": 3, "bottom": 0}
).configure(font=FONT).configure_axis(
    labelFont=FONT, labelFontSize=9, labelFontWeight="bold", labelColor="black",
    titleFont=FONT, titleFontSize=14, titleFontWeight="bold", titleFontStyle="italic",
    titleColor="black", tickColor="#8a8a8a", tickSize=3, labelPadding=2, grid=False
).configure_view(stroke="#9a9a9a", strokeWidth=1.5)

chart.save("out.html", embed_options={"renderer": "svg", "actions": False})
